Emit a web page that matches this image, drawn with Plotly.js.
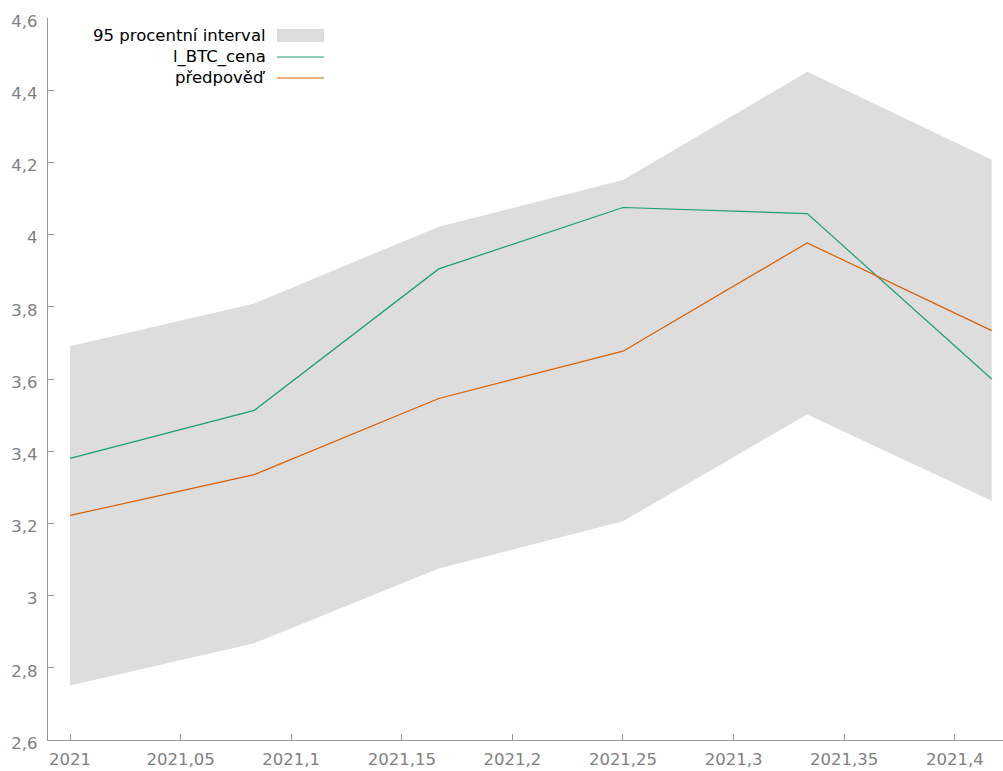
<!DOCTYPE html>
<html>
<head>
<meta charset="utf-8">
<script src="https://cdn.plot.ly/plotly-3.0.1.min.js"></script>
<style>
html, body { margin: 0; padding: 0; background: #ffffff; }
#chart { width: 1003px; height: 771px; }
</style>
</head>
<body>
<div id="chart"></div>
<script>
// Data (monthly observations, 2021 Jan..Jun as decimal years)
const xYears = [2021, 2021.0833, 2021.1667, 2021.25, 2021.3333, 2021.4167];
const btcPrice = [3.380, 3.513, 3.905, 4.075, 4.058, 3.600];      // l_BTC_cena
const forecast = [3.222, 3.335, 3.546, 3.677, 3.977, 3.734];      // předpověď
const upperBand = [3.691, 3.809, 4.022, 4.151, 4.451, 4.207];     // 95% interval upper
const lowerBand = [2.751, 2.868, 3.075, 3.206, 3.502, 3.263];     // 95% interval lower

const xTickVals = [2021, 2021.05, 2021.1, 2021.15, 2021.2, 2021.25, 2021.3, 2021.35, 2021.4];
const xTickText = ["2021", "2021,05", "2021,1", "2021,15", "2021,2", "2021,25", "2021,3", "2021,35", "2021,4"];
const yTickVals = [2.6, 2.8, 3, 3.2, 3.4, 3.6, 3.8, 4, 4.2, 4.4, 4.6];
const yTickText = ["2,6", "2,8", "3", "3,2", "3,4", "3,6", "3,8", "4", "4,2", "4,4", "4,6"];

const legendLabels = ["95 procentní interval", "l_BTC_cena", "předpověď"];

const colBand = "#dddddd";
const colGreen = "#1b9e77";
const colOrange = "#d95f02";
const FONT = "DejaVu Sans, Verdana, sans-serif";
const FS = 16.5;

const traces = [
  { x: xYears, y: lowerBand, type: "scatter", mode: "lines",
    line: { width: 0, color: colBand }, showlegend: false, hoverinfo: "skip" },
  { x: xYears, y: upperBand, type: "scatter", mode: "lines", fill: "tonexty",
    fillcolor: colBand, line: { width: 0, color: colBand }, name: legendLabels[0], showlegend: false },
  { x: xYears, y: btcPrice, type: "scatter", mode: "lines",
    line: { width: 1.2, color: colGreen }, name: legendLabels[1], showlegend: false },
  { x: xYears, y: forecast, type: "scatter", mode: "lines",
    line: { width: 1.2, color: colOrange }, name: legendLabels[2], showlegend: false }
];

// Manual legend (text on the left, key on the right, as in the reference)
const L = 48, T = 18, W = 955, H = 722;
const px = v => (v - L) / W;
const py = v => 1 - (v - T) / H;
const legendRowsY = [35.5, 57, 78];
const textRight = 268, keyL = 277, keyR = 324;

const annotations = legendLabels.map((t, i) => ({
  text: t, xref: "paper", yref: "paper", x: px(textRight), y: py(legendRowsY[i]),
  xanchor: "right", yanchor: "middle", showarrow: false,
  font: { family: FONT, size: FS, color: "#000000" }
}));

const shapes = [
  { type: "rect", xref: "paper", yref: "paper", x0: px(keyL), x1: px(keyR),
    y0: py(legendRowsY[0] - 6.5), y1: py(legendRowsY[0] + 6.5),
    fillcolor: colBand, line: { width: 0 } },
  { type: "line", xref: "paper", yref: "paper", x0: px(keyL), x1: px(keyR),
    y0: py(legendRowsY[1]), y1: py(legendRowsY[1]), line: { color: colGreen, width: 1.2 } },
  { type: "line", xref: "paper", yref: "paper", x0: px(keyL), x1: px(keyR),
    y0: py(legendRowsY[2]), y1: py(legendRowsY[2]), line: { color: colOrange, width: 1.2 } }
];

const layout = {
  width: 1003, height: 771,
  margin: { l: L, r: 0, t: T, b: 31, pad: 0 },
  paper_bgcolor: "#ffffff", plot_bgcolor: "#ffffff",
  separators: ", ",
  showlegend: false,
  hovermode: false,
  font: { family: FONT, size: FS, color: "#808080" },
  xaxis: {
    range: [2020.99005, 2021.4218],
    tickmode: "array", tickvals: xTickVals, ticktext: xTickText,
    ticks: "inside", ticklen: 6, tickcolor: "#999999", tickwidth: 1,
    ticklabelstandoff: 4,
    showline: true, linecolor: "#999999", linewidth: 1.2,
    showgrid: false, zeroline: false,
    tickfont: { family: FONT, size: FS, color: "#808080" }
  },
  yaxis: {
    range: [2.6, 4.6],
    tickmode: "array", tickvals: yTickVals, ticktext: yTickText,
    ticks: "inside", ticklen: 6, tickcolor: "#999999", tickwidth: 1,
    ticklabelstandoff: 6, ticklabelshift: 3,
    showline: true, linecolor: "#999999", linewidth: 1.2,
    showgrid: false, zeroline: false,
    tickfont: { family: FONT, size: FS, color: "#808080" }
  },
  annotations: annotations,
  shapes: shapes
};

Plotly.newPlot("chart", traces, layout, { displayModeBar: false, staticPlot: true });
</script>
</body>
</html>
